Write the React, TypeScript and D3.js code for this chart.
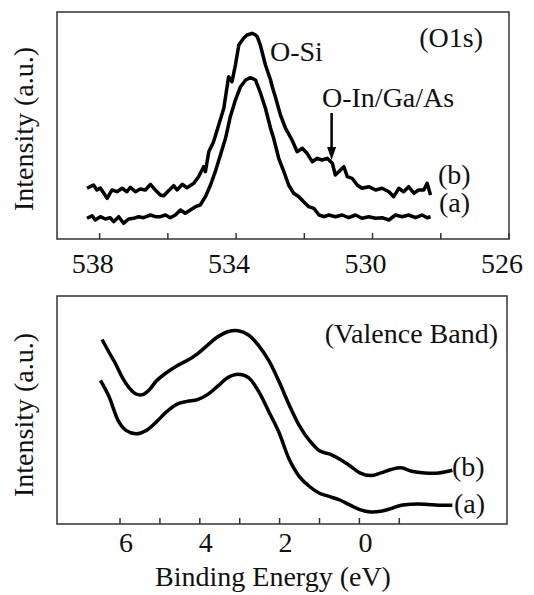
import React from 'react';
import * as d3 from 'd3';

// O1s spectra (binding energy in eV, intensity a.u.)
const o1sEnergyB = [538.37, 538.18, 538.08, 537.98, 537.78, 537.64, 537.49, 537.34, 537.2, 537.1, 536.95, 536.81, 536.66, 536.51, 536.37, 536.22, 536.12, 535.98, 535.83, 535.73, 535.58, 535.44, 535.24, 535.1, 534.95, 534.9, 534.8, 534.66, 534.51, 534.36, 534.22, 534.12, 534.02, 533.92, 533.78, 533.68, 533.53, 533.43, 533.38, 533.29, 533.14, 532.99, 532.94, 532.85, 532.7, 532.55, 532.36, 532.21, 532.06, 531.92, 531.77, 531.62, 531.48, 531.33, 531.18, 531.09, 530.94, 530.84, 530.74, 530.6, 530.45, 530.31, 530.11, 529.91, 529.72, 529.52, 529.38, 529.23, 529.09, 528.94, 528.79, 528.65, 528.5, 528.4, 528.3];
const o1sB = [50.7, 54, 49, 51, 40.7, 49, 47.3, 50.7, 47.3, 51.7, 47.3, 50, 49, 54.7, 49, 44, 43.3, 48.3, 53.3, 49, 54.7, 51.3, 55.7, 62.3, 72.3, 67.3, 87.3, 97.3, 114, 130.7, 162.3, 157.3, 174, 194, 200.7, 204, 205.7, 204, 202.3, 194, 174, 159, 152.3, 142.3, 124, 110.7, 99, 87.3, 90.7, 85.7, 77.3, 80.7, 79, 80.7, 75.7, 64, 69, 72.3, 62.3, 60.7, 54, 50.7, 52.3, 49, 50.7, 47.3, 42.3, 50.7, 47.3, 52.3, 45.7, 49, 49, 55.7, 44];
const o1sEnergyA = [538.37, 538.22, 538.13, 537.98, 537.83, 537.69, 537.59, 537.44, 537.3, 537.15, 537, 536.86, 536.71, 536.51, 536.37, 536.22, 536.07, 535.93, 535.78, 535.63, 535.49, 535.34, 535.19, 535.05, 534.9, 534.75, 534.61, 534.46, 534.31, 534.17, 534.02, 533.87, 533.72, 533.58, 533.43, 533.29, 533.14, 532.99, 532.9, 532.75, 532.6, 532.46, 532.31, 532.16, 532.02, 531.87, 531.72, 531.57, 531.42, 531.28, 531.09, 530.89, 530.7, 530.5, 530.31, 530.11, 529.91, 529.72, 529.52, 529.33, 529.13, 528.94, 528.74, 528.55, 528.4, 528.3];
const o1sA = [20.7, 23.3, 19, 22.3, 20, 21.3, 17.3, 22.3, 15.7, 20, 20.7, 22.3, 21.3, 24, 22.3, 22.3, 24, 21.3, 24, 29, 25.7, 29, 32.3, 34, 42.3, 54, 67.3, 84, 100.7, 122.3, 139, 152.3, 159, 161.3, 159, 146.5, 130.7, 110.7, 100.7, 80.7, 67.3, 54, 45.7, 42.3, 37.3, 32.3, 30.7, 24, 22.3, 24, 22.3, 24, 21.3, 24, 20.7, 22.3, 20.7, 21.3, 19, 24, 22.3, 24, 21.3, 24, 21.3, 22.3];

// valence band spectra
const vbEnergyB = [6.45, 6.28, 6.11, 5.94, 5.77, 5.6, 5.43, 5.26, 5.09, 4.83, 4.57, 4.32, 4.06, 3.81, 3.55, 3.3, 3.04, 2.78, 2.53, 2.27, 2.02, 1.76, 1.51, 1.25, 1.0, 0.74, 0.49, 0.23, -0.01, -0.28, -0.54, -0.79, -1.05, -1.31, -1.64, -1.99, -2.33];
const vbB = [184.5, 172, 160, 146.4, 136.2, 130, 129.4, 134.5, 143, 151.5, 158.3, 163.4, 170.2, 178.7, 187.2, 192.3, 193.3, 189, 178.7, 163.4, 143, 119.1, 98.7, 83.4, 73.2, 69.8, 64.7, 58, 51.1, 48.4, 51.1, 54.5, 56.2, 52.8, 51.1, 51.1, 53.8];
const vbEnergyA = [6.49, 6.28, 6.03, 5.85, 5.6, 5.34, 5.09, 4.83, 4.57, 4.32, 4.06, 3.81, 3.55, 3.3, 3.04, 2.78, 2.53, 2.27, 2.02, 1.76, 1.51, 1.25, 1.0, 0.74, 0.49, 0.23, -0.01, -0.28, -0.54, -0.79, -1.05, -1.31, -1.64, -1.99, -2.33];
const vbA = [143.6, 127.7, 102.1, 93.6, 90.2, 93.6, 102.1, 112.3, 119.8, 122.6, 124.3, 129.4, 137.9, 146.4, 149.8, 146.4, 132.8, 112.3, 92, 64.7, 47.7, 37.5, 30.7, 27.3, 24, 18.8, 14.4, 12, 12.7, 15.4, 18.8, 19.8, 19.8, 18.8, 18.8];

const o1sTicks = [538, 536, 534, 532, 530, 528, 526];
const o1sTickLabels = [538, 534, 530, 526];
const vbTicks = [6, 5, 4, 3, 2, 1, 0, -1];
const vbTickLabels = [6, 4, 2, 0];

const FONT = "'Liberation Serif', 'Times New Roman', Times, 'DejaVu Serif', serif";
const W = 534;
const H = 595;

function Frame({ x, y }: { x: any; y: any }) {
  const [x0, x1] = x.range();
  const [y0, y1] = y.range();
  return (
    <rect x={x0} y={y1} width={x1 - x0} height={y0 - y1} fill="none" stroke="#333" strokeWidth={1.5} />
  );
}

export default function App() {
  // top panel (O1s)
  const x1 = d3.scaleLinear().domain([539.25, 526]).range([57, 509]);
  const y1 = d3.scaleLinear().domain([0, 227]).range([239, 12]);
  // bottom panel (valence band)
  const x2 = d3.scaleLinear().domain([7.58, -3.7]).range([57, 507]);
  const y2 = d3.scaleLinear().domain([0, 228]).range([524, 296]);

  const line1 = d3.line<[number, number]>().x(d => x1(d[0])).y(d => y1(d[1]));
  const line2 = d3
    .line<[number, number]>()
    .x(d => x2(d[0]))
    .y(d => y2(d[1]))
    .curve(d3.curveCatmullRom);

  const zipA = o1sEnergyA.map((e, i) => [e, o1sA[i]] as [number, number]);
  const zipB = o1sEnergyB.map((e, i) => [e, o1sB[i]] as [number, number]);
  const vbZipA = vbEnergyA.map((e, i) => [e, vbA[i]] as [number, number]);
  const vbZipB = vbEnergyB.map((e, i) => [e, vbB[i]] as [number, number]);

  // arrow pointing at the O-In/Ga/As shoulder
  const arrowX = x1(531.2);
  const arrowTop = y1(126);
  const arrowTip = y1(79);

  const textStyle = { style: { fontFamily: FONT, fontSize: 28 }, fill: '#111' };

  return (
    <svg width={W} height={H} style={{ position: 'absolute', left: 0, top: 0, background: '#fff' }}>
      <rect width={W} height={H} fill="#fff" />

      {/* ---- O1s ---- */}
      <Frame x={x1} y={y1} />
      {o1sTicks.map(t => (
        <line key={t} x1={x1(t)} x2={x1(t)} y1={239} y2={233} stroke="#333" strokeWidth={1.5} />
      ))}
      {o1sTickLabels.map(t => (
        <text key={t} x={x1(t) - 7} y={273} textAnchor="middle" {...textStyle}>{t}</text>
      ))}
      <path d={line1(zipB) || ''} fill="none" stroke="#000" strokeWidth={3.5} strokeLinejoin="round" />
      <path d={line1(zipA) || ''} fill="none" stroke="#000" strokeWidth={3.5} strokeLinejoin="round" />
      <line x1={arrowX} x2={arrowX} y1={arrowTop} y2={arrowTip - 10} stroke="#000" strokeWidth={2.5} />
      <path d={`M${arrowX},${arrowTip} L${arrowX - 4.5},${arrowTip - 13} L${arrowX + 4.5},${arrowTip - 13} Z`} fill="#000" />
      <text x={270} y={61} {...textStyle}>O-Si</text>
      <text x={322} y={107} {...textStyle}>O-In/Ga/As</text>
      <text x={483} y={47} textAnchor="end" {...textStyle}>(O1s)</text>
      <text x={438} y={184} {...textStyle}>(b)</text>
      <text x={439} y={212} {...textStyle}>(a)</text>
      <text transform="translate(33,129) rotate(-90)" textAnchor="middle" {...textStyle}>Intensity (a.u.)</text>

      {/* ---- Valence band ---- */}
      <Frame x={x2} y={y2} />
      {vbTicks.map(t => (
        <line key={t} x1={x2(t)} x2={x2(t)} y1={524} y2={518} stroke="#333" strokeWidth={1.5} />
      ))}
      {vbTickLabels.map(t => (
        <text key={t} x={x2(t) + 6} y={552} textAnchor="middle" {...textStyle}>{t}</text>
      ))}
      <path d={line2(vbZipB) || ''} fill="none" stroke="#000" strokeWidth={3.5} strokeLinejoin="round" />
      <path d={line2(vbZipA) || ''} fill="none" stroke="#000" strokeWidth={3.5} strokeLinejoin="round" />
      <text x={498} y={343} textAnchor="end" {...textStyle}>(Valence Band)</text>
      <text x={452} y={476} {...textStyle}>(b)</text>
      <text x={454} y={513} {...textStyle}>(a)</text>
      <text transform="translate(33,415) rotate(-90)" textAnchor="middle" {...textStyle}>Intensity (a.u.)</text>
      <text x={273} y={586} textAnchor="middle" {...textStyle}>Binding Energy (eV)</text>
    </svg>
  );
}
